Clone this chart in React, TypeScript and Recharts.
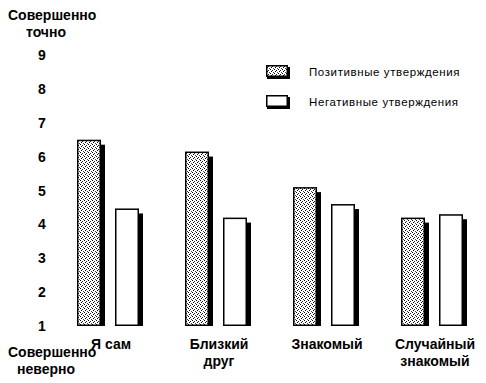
import React from "react";
import { BarChart, Bar, XAxis, YAxis } from "recharts";

const categories = ["Я сам", "Близкий\nдруг", "Знакомый", "Случайный\nзнакомый"];
const positiveValues = [6.5, 6.15, 5.1, 4.2];
const negativeValues = [4.47, 4.2, 4.6, 4.3];
const yTicks = [1, 2, 3, 4, 5, 6, 7, 8, 9];
const seriesNames = ["Позитивные утверждения", "Негативные утверждения"];

const data = categories.map((name, i) => ({
  name,
  positive: positiveValues[i],
  negative: negativeValues[i],
}));

const FONT = "'Liberation Sans Narrow', 'Liberation Sans', Arial, sans-serif";

function Stipple({ id }: { id: string }) {
  return (
    <pattern id={id} width={4} height={4} patternUnits="userSpaceOnUse">
      <rect width={4} height={4} fill="#fff" />
      <rect x={0} y={0} width={1} height={1} fill="#000" />
      <rect x={2} y={1} width={1} height={1} fill="#222" />
      <rect x={1} y={2} width={1} height={1} fill="#000" />
      <rect x={3} y={3} width={1} height={1} fill="#444" />
    </pattern>
  );
}

function ShadowBar(props: any) {
  const { x, y, width, height, fill } = props;
  if (!height || height <= 0) return null;
  return (
    <g>
      <rect x={x + width} y={y + 5} width={4} height={height - 5} fill="#000" />
      <rect x={x + 0.75} y={y + 0.75} width={width - 1.5} height={height - 1.5} fill={fill} stroke="#000" strokeWidth={1.5} />
    </g>
  );
}

function YTick({ y, payload }: any) {
  return (
    <text x={42} y={y} dy="0.36em" textAnchor="middle" fontFamily={FONT} fontWeight="bold" fontSize={14} fill="#000">
      {payload.value}
    </text>
  );
}

function XTick({ x, payload }: any) {
  const lines = String(payload.value).split("\n");
  return (
    <text x={x + 3} textAnchor="middle" fontFamily={FONT} fontWeight="bold" fontSize={14} fill="#000">
      {lines.map((l, i) => (
        <tspan key={i} x={x + 3} y={349 + i * 17}>
          {l}
        </tspan>
      ))}
    </text>
  );
}

function ChartLegend() {
  const fills = ["url(#stippleLegend)", "#fff"];
  return (
    <div
      style={{
        position: "absolute",
        top: 57,
        left: 266,
        fontFamily: "'Liberation Sans', Arial, sans-serif",
        fontSize: 11.5,
        letterSpacing: 0.6,
      }}
    >
      <svg width={0} height={0} style={{ position: "absolute" }}>
        <defs>
          <Stipple id="stippleLegend" />
        </defs>
      </svg>
      {seriesNames.map((n, i) => (
        <div key={n} style={{ display: "flex", alignItems: "center", height: 30 }}>
          <svg width={26} height={14} style={{ marginRight: 17 }}>
            <rect x={1} y={2} width={23} height={12} fill="#000" />
            <rect x={0.75} y={0.75} width={20.5} height={10.5} fill={fills[i]} stroke="#000" strokeWidth={1.5} />
          </svg>
          <span>{n}</span>
        </div>
      ))}
    </div>
  );
}

export default function App() {
  const labelStyle: React.CSSProperties = {
    position: "absolute",
    left: 8,
    width: 76,
    textAlign: "center",
    fontFamily: FONT,
    fontWeight: "bold",
    fontSize: 14,
    lineHeight: "17px",
  };
  return (
    <div style={{ position: "absolute", left: 0, top: 0, width: 486, height: 383, background: "#fff" }}>
      <BarChart
        width={486}
        height={383}
        data={data}
        margin={{ top: 55, right: 0, left: 0, bottom: 0 }}
        barGap={14}
        style={{ position: "absolute", left: 0, top: 0 }}
      >
        <defs>
          <Stipple id="stipple" />
        </defs>
        <XAxis dataKey="name" axisLine={false} tickLine={false} height={57} tick={<XTick />} interval={0} />
        <YAxis
          domain={[1, 9]}
          ticks={yTicks}
          axisLine={false}
          tickLine={false}
          width={54}
          tick={<YTick />}
          interval={0}
        />
        <Bar dataKey="positive" name={seriesNames[0]} barSize={24} fill="url(#stipple)" shape={<ShadowBar />} isAnimationActive={false} />
        <Bar dataKey="negative" name={seriesNames[1]} barSize={24} fill="#fff" shape={<ShadowBar />} isAnimationActive={false} />
      </BarChart>
      <div style={{ ...labelStyle, top: 7 }}>
        Совершенно
        <br />
        точно
      </div>
      <div style={{ ...labelStyle, top: 344 }}>
        Совершенно
        <br />
        неверно
      </div>
      <ChartLegend />
    </div>
  );
}
